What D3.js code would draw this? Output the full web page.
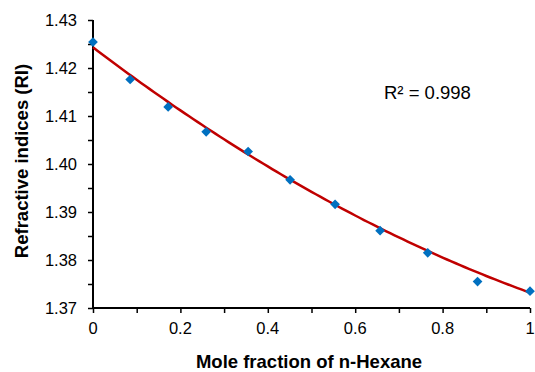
<!DOCTYPE html>
<html><head><meta charset="utf-8">
<script src="https://cdn.jsdelivr.net/npm/d3@7"></script>
<style>
html,body{margin:0;padding:0;background:#fff;}
svg{display:block;font-family:"Liberation Sans",Arial,sans-serif;}
</style></head>
<body>
<svg id="chart" width="535" height="372"></svg>
<script>
// Data
const moleFraction = [0, 0.085, 0.172, 0.259, 0.355, 0.451, 0.554, 0.657, 0.766, 0.880, 1.0];
const refractiveIndex = [1.4254, 1.4176, 1.4119, 1.4067, 1.4026, 1.3967, 1.3916, 1.3861, 1.3815, 1.3755, 1.3735];
// Polynomial (order 2) trendline coefficients: a + b x + c x^2
const trendCoeffs = [1.4243, -0.0693, 0.0182];
const xTicks = [0, 0.2, 0.4, 0.6, 0.8, 1];
const yTicks = [1.37, 1.38, 1.39, 1.40, 1.41, 1.42, 1.43];
const r2Label = "R² = 0.998";
const xTitle = "Mole fraction of n-Hexane";
const yTitle = "Refractive indices (RI)";

const svg = d3.select("#chart");
const mLeft = 93, mRight = 530, mTop = 20, mBottom = 308;
const x = d3.scaleLinear().domain([0, 1]).range([mLeft, mRight]);
const y = d3.scaleLinear().domain([1.37, 1.43]).range([mBottom, mTop]);

const g = svg.append("g");
const xMinor = d3.range(0, 1.0001, 0.1);
const yMinor = d3.range(1.37, 1.4301, 0.005);

const yAxis = g.append("g").attr("transform", `translate(${mLeft},0)`)
  .call(d3.axisLeft(y).tickValues(yMinor).tickSize(5).tickFormat(""));
const xAxis = g.append("g").attr("transform", `translate(0,${mBottom})`)
  .call(d3.axisBottom(x).tickValues(xMinor).tickSize(5).tickFormat(""));
[xAxis, yAxis].forEach(a => {
  a.select(".domain").attr("stroke", "#000").attr("stroke-width", 2);
  a.selectAll(".tick line").attr("stroke", "#000").attr("stroke-width", 1.5);
});
xAxis.select(".domain").attr("d", `M${mLeft - 1},0H${mRight}`);
yAxis.select(".domain").attr("d", `M0,${mBottom + 1}V${mTop}`);

// tick labels
g.append("g").selectAll("text").data(yTicks).join("text")
  .attr("x", mLeft - 16).attr("y", d => y(d)).attr("dy", "0.36em")
  .attr("text-anchor", "end").attr("font-size", 16.5).attr("fill", "#000")
  .text(d => d3.format(".2f")(d));
g.append("g").selectAll("text").data(xTicks).join("text")
  .attr("x", d => x(d)).attr("y", 334)
  .attr("text-anchor", "middle").attr("font-size", 16.5).attr("fill", "#000")
  .text(d => d === 0 || d === 1 ? String(d) : d3.format(".1f")(d));

// trendline
const fx = d3.range(0, 1.0001, 0.01);
const poly = t => trendCoeffs[0] + trendCoeffs[1] * t + trendCoeffs[2] * t * t;
svg.append("path").datum(fx)
  .attr("d", d3.line().x(d => x(d)).y(d => y(poly(d))))
  .attr("fill", "none").attr("stroke", "#C00000").attr("stroke-width", 2.5);

// markers
svg.append("g").selectAll("path").data(moleFraction).join("path")
  .attr("transform", (d, i) => `translate(${x(d)},${y(refractiveIndex[i])})`)
  .attr("d", d3.symbol(d3.symbolDiamond2, 60)())
  .attr("fill", "#0070C0");

// R2 label
svg.append("text").attr("x", 384).attr("y", 99).attr("font-size", 18.5).attr("fill", "#000").text(r2Label);

// axis titles
svg.append("text").attr("x", 309).attr("y", 368).attr("text-anchor", "middle")
  .attr("font-size", 18.5).attr("font-weight", "bold").attr("fill", "#000").text(xTitle);
svg.append("text").attr("transform", "translate(28,161) rotate(-90)").attr("text-anchor", "middle")
  .attr("font-size", 18.5).attr("font-weight", "bold").attr("fill", "#000").text(yTitle);
</script>
</body></html>
